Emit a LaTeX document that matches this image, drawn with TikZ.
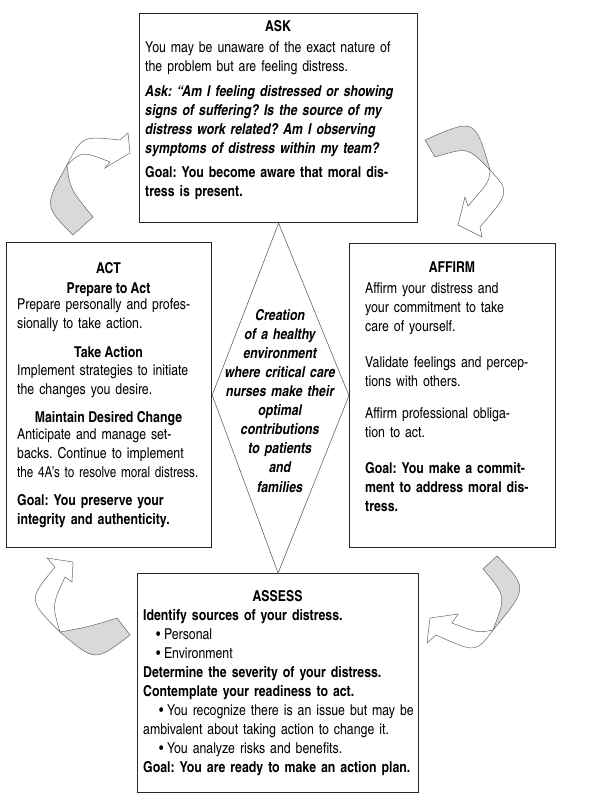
\documentclass[tikz,border=0pt]{standalone}
\usepackage{fontspec}
\usepackage{graphicx}
\setmainfont{texgyreheroscn}[Extension=.otf, UprightFont=*-regular, BoldFont=*-bold, ItalicFont=*-italic, BoldItalicFont=*-bolditalic]
\newcommand\bodyfont{\fontsize{15}{19.1}\selectfont}
\newcommand\dotitem{\textbullet\hspace{3.5pt}}
\frenchspacing
\begin{document}
\begin{tikzpicture}
    [
    x=1pt, y=-1pt,
    stage/.style={rectangle,draw=black!85,line width=1.2pt,inner sep=0pt,anchor=north west},
    heading/.style={font=\bodyfont\bfseries,inner sep=0pt,anchor=base},
    para/.style={font=\bodyfont,inner sep=0pt,anchor=north west,text width=320pt,align=left},
    question/.style={para,font=\bodyfont\bfseries\itshape},
    goal/.style={para,font=\bodyfont\bfseries},
    hubtext/.style={font=\bodyfont\bfseries\itshape,inner sep=0pt,anchor=north,text width=140pt,align=center},
    hubline/.style={draw=black!70,line width=0.5pt},
    band/.style={draw=black!60,line width=0.5pt,fill=white},
    twist/.style={draw=black!60,line width=0.5pt,fill=black!15}
    ]
    \useasboundingbox (0,0) rectangle (592,806);
    % the four stages
    \node (ask) at (139,13) [stage,minimum width=278pt,minimum height=209pt] {};
    \node (act) at (6,242) [stage,minimum width=205pt,minimum height=305pt] {};
    \node (affirm) at (349,243) [stage,minimum width=206pt,minimum height=304pt] {};
    \node (assess) at (137,573) [stage,minimum width=281pt,minimum height=219pt] {};
    % centre
    \draw [hubline] (ask.south) -- (affirm.west) -- (assess.north) -- (act.east) -- cycle;
    \node (hub) at (280,306.6) [hubtext] {\strut Creation\\of a healthy\\environment\\where critical care\\nurses make their\\optimal\\contributions\\to patients\\and\\families};
    % ASK
    \node (askhead) at (278,31.4) [heading] {ASK};
    \node (ask1) at (145,38.6) [para] {\strut You may be unaware of the exact nature of\\the problem but are feeling distress.};
    \node (ask2) at (145,82.6) [question] {\strut Ask: “Am I feeling distressed or showing\\signs of suffering? Is the source of my\\distress work related? Am I observing\\symptoms of distress within my team?};
    \node (askgoal) at (145,163.6) [goal] {\strut Goal: You become aware that moral dis-\\tress is present.};
    % AFFIRM
    \node (affirmhead) at (452,272.4) [heading] {AFFIRM};
    \node (affirm1) at (365,279.6) [para] {\strut Affirm your distress and\\your commitment to take\\care of yourself.};
    \node (affirm2) at (365,353.6) [para] {\strut Validate feelings and percep-\\tions with others.};
    \node (affirm3) at (365,404.6) [para] {\strut Affirm professional obliga-\\tion to act.};
    \node (affirmgoal) at (365,459.6) [goal] {\strut Goal: You make a commit-\\ment to address moral dis-\\tress.};
    % ASSESS
    \node (assesshead) at (277.5,601.4) [heading] {ASSESS};
    \node (assess1) at (143,606.6) [para] {\strut\textbf{Identify sources of your distress.}\\
      \hspace*{13pt}\dotitem Personal\\
      \hspace*{13pt}\dotitem Environment\\
      \textbf{Determine the severity of your distress.}\\
      \textbf{Contemplate your readiness to act.}\\
      \hspace*{16pt}\dotitem You recognize there is an issue but may be\\
      ambivalent about taking action to change it.\\
      \hspace*{16pt}\dotitem You analyze risks and benefits.\\
      \textbf{Goal: You are ready to make an action plan.}};
    % ACT
    \node (acthead) at (108.5,273.4) [heading] {ACT};
    \node (prepare) at (108.5,293.4) [heading] {Prepare to Act};
    \node (act1) at (17,295.6) [para] {\strut Prepare personally and profes-\\sionally to take action.};
    \node (take) at (108.5,357.4) [heading] {Take Action};
    \node (act2) at (17,361.6) [para] {\strut Implement strategies to initiate\\the changes you desire.};
    \node (maintain) at (108.5,422.4) [heading] {Maintain Desired Change};
    \node (act3) at (17,425.6) [para] {\strut Anticipate and manage set-\\backs. Continue to implement\\\scalebox{0.95}[1]{the 4A’s to resolve moral distress.}};
    \node (actgoal) at (17,491.6) [goal] {\strut Goal: You preserve your\\integrity and authenticity.};
    % ACT to ASK
    \draw [twist] (73,235) .. controls (44,206) .. (67,165) .. controls (70,189) .. (93,217) -- cycle;
    \draw [band] (67,165) .. controls (82,136) .. (120,140) -- (128,133) -- (130,153) -- (105,168) -- (110,162) .. controls (82,151) .. (67,165) -- cycle;
    % ASK to AFFIRM
    \draw [twist] (425,140) .. controls (475,118) .. (490,170) .. controls (468,147) .. (435,157) -- cycle;
    \draw [band] (490,170) .. controls (510,192) .. (480,227) -- (482,237) -- (458,225) -- (465,197) -- (468,206) .. controls (489,182) .. (490,170) -- cycle;
    % AFFIRM to ASSESS
    \draw [twist] (497,556) .. controls (528,588) .. (493,630) .. controls (506,596) .. (483,569) -- cycle;
    \draw [band] (493,630) .. controls (476,653) .. (436,635) -- (427,643) -- (430,618) -- (458,614) -- (452,623) .. controls (478,633) .. (493,630) -- cycle;
    % ASSESS to ACT
    \draw [twist] (130,635) .. controls (95,662) .. (60,632) .. controls (88,627) .. (117,618) -- cycle;
    \draw [band] (60,632) .. controls (28,600) .. (55,567) -- (47,558) -- (73,562) -- (72,582) -- (65,577) .. controls (52,605) .. (60,632) -- cycle;
\end{tikzpicture}
\end{document}
